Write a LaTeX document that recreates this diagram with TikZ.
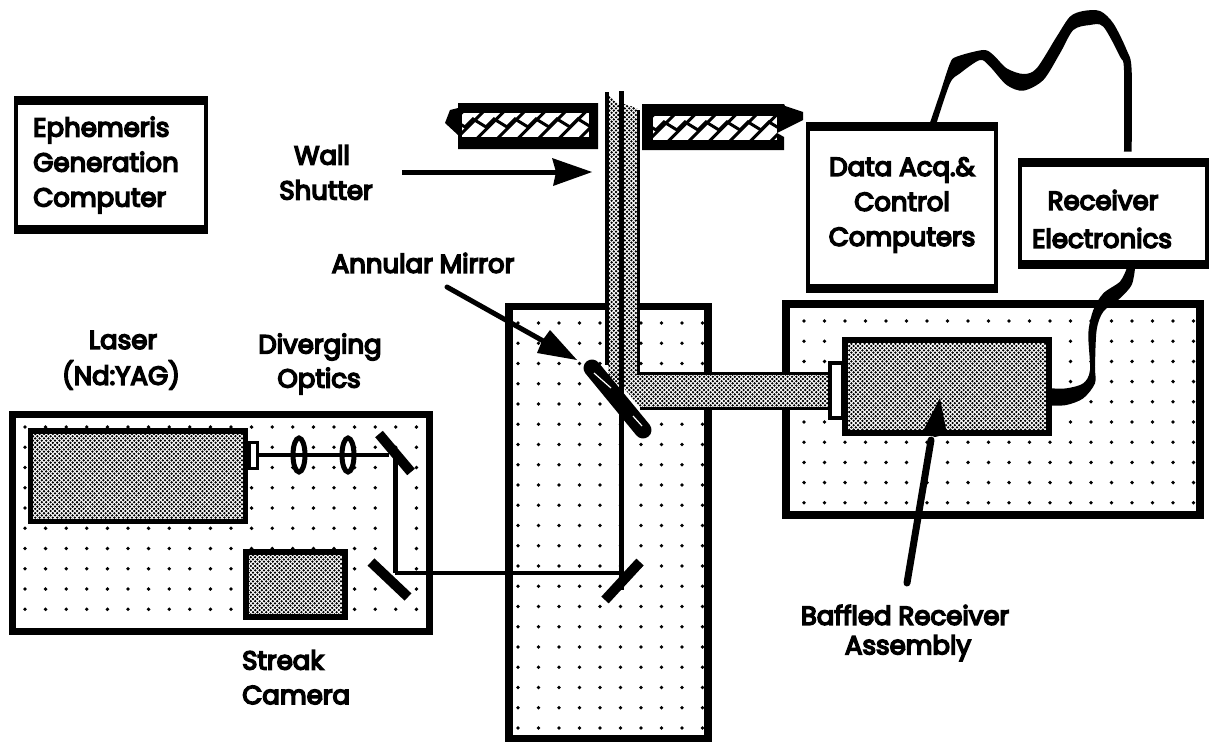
\documentclass[tikz,border=0pt]{standalone}
\usepackage{fontspec}
\setmainfont{Poppins}
\newfontfamily\lblfont{Poppins}[FakeBold=6]
\usetikzlibrary{patterns,arrows.meta}
\pgfdeclarepatternformonly{halftone}{\pgfqpoint{-1.5pt}{-1.5pt}}{\pgfqpoint{5pt}{5pt}}{\pgfqpoint{4.4pt}{4.4pt}}{
  \pgfpathcircle{\pgfqpoint{0pt}{0pt}}{1.3pt}
  \pgfpathcircle{\pgfqpoint{2.2pt}{2.2pt}}{1.3pt}
  \pgfusepath{fill}}
\tikzset{
  x=1pt,y=-1pt,
  lbl/.style={font=\lblfont\fontsize{26}{35}\selectfont,inner sep=0pt,align=center,text=black},
  lbll/.style={lbl,align=left},
  halfbox/.style={draw=black,line width=#1,preaction={fill=white},pattern=halftone,pattern color=black},
  mirror/.style={draw=black,line width=10pt},
  ray/.style={draw=black,line width=3.5pt},
  cable/.style={fill=black},
  tip/.style={fill=black},
}
\newcommand{\frm}[6]{% x0 y0 x1 y1 side top
  \fill[black] (#1,#2) rectangle (#3,#4);
  \fill[white] ({#1+#5},{#2+#6}) rectangle ({#3-#5},{#4-#6});}
\newcommand{\dotgrid}[6]{% x0 dx nx y0 dy ny
  \foreach \i in {1,...,#3}{\foreach \j in {1,...,#6}{
    \fill[black] ({#1+(\i-1)*#2},{#4+(\j-1)*#5}) circle (1.9pt);}}}
\newcommand{\hatchzone}[4]{% x0 x1 y0 y1
  \begin{scope}
   \clip (#1,#3) rectangle (#2,#4);
   \fill[white] (#1,#3) rectangle (#2,#4);
   \foreach \k in {-2,...,7}{
     \draw[black,line width=3pt] ({#1+\k*20.5-6},#4+2) -- ({#1+\k*20.5+22},#3-2);}
   \draw[black,line width=3pt] plot coordinates {
     ({#1-10},{#3+6}) ({#1+3},{#3+14}) ({#1+11},{#3+6}) ({#1+24},{#3+14}) ({#1+32},{#3+6})
     ({#1+45},{#3+14}) ({#1+53},{#3+6}) ({#1+66},{#3+14}) ({#1+74},{#3+6}) ({#1+87},{#3+14})
     ({#1+95},{#3+6}) ({#1+108},{#3+14}) ({#1+116},{#3+6}) ({#1+129},{#3+14})};
  \end{scope}}
\begin{document}
\begin{tikzpicture}
\useasboundingbox (0,0) rectangle (1209,742);
\fill[white] (0,0) rectangle (1209,742);

% tables
\frm{9}{411}{433}{635}{7}{7}
\dotgrid{25}{20.6}{20}{427}{20.25}{10}
\frm{505}{303}{712}{742}{8}{7}
\dotgrid{518}{20.5}{10}{323}{20.25}{21}
\frm{782}{300}{1204}{519}{8}{8}
\dotgrid{804}{20.5}{20}{321}{20.2}{10}

% wall
\fill[black] (458,103) -- (598,103) -- (598,149) -- (458,149) -- (458,135) -- (445,123) -- (450,110) -- (458,108) -- cycle;
\hatchzone{462}{589}{113}{137}
\fill[black] (642,104) -- (784,104) -- (785,106) -- (803,112) -- (803,120) -- (777,133) -- (784,137) -- (784,150) -- (642,150) -- cycle;
\hatchzone{653}{777}{116}{140}

% boxes
\frm{14}{96}{208}{234}{4}{9}
\node[lbll,anchor=west] (eph) at (33,165) {Ephemeris\\Generation\\Computer};
\frm{806}{122}{998}{293}{4}{9}
\node[lbl] (data) at (902,205) {Data Acq.\&\\Control\\Computers};
\frm{1018}{158}{1209}{269}{4}{9}
\node[lbl] (recv) at (1103,200) {Receiver};
\node[lbl] (elec) at (1102,238) {Electronics};

% cables
\begin{scope}[shift={(900,0)},x=0.3333pt,y=-0.3333pt]
\fill[cable] plot[smooth] coordinates {(90,368) (120,280) (150,190) (170,170) (250,150) (280,165) (320,205) (370,222) (410,205) (470,110) (510,50) (550,33) (600,33) (640,70) (680,150) (695,210) (695,455)}
 -- plot[smooth] coordinates {(672,455) (672,210) (660,170) (610,80) (570,75) (520,90) (480,160) (430,240) (370,272) (320,255) (270,200) (240,180) (180,220) (150,250) (110,368)} -- cycle;
\fill[cable] plot[smooth] coordinates {(705,806) (695,855) (660,895) (610,935) (590,990) (585,1100) (585,1150) (550,1195) (500,1215) (450,1217)}
 -- plot[smooth] coordinates {(450,1165) (500,1165) (550,1150) (570,1110) (565,1000) (580,930) (610,880) (660,845) (680,806)} -- cycle;
\end{scope}

% outgoing beam
\fill[white] (608,95) rectangle (637,372);
\fill[white] (637,373) rectangle (828,407);
\fill[pattern=halftone,pattern color=black] (608,95) -- (619,105) -- (619,385) -- (608,385) -- cycle;
\fill[pattern=halftone,pattern color=black] (624,104) -- (637,108) -- (637,373) -- (828,373) -- (828,407) -- (640,407) -- (610,372) -- (624,372) -- cycle;
\coordinate (a1) at (607,92); \coordinate (a2) at (607,365);
\draw[black,line width=4pt] (a1) -- (a2);
\coordinate (b1) at (621.5,91); \coordinate (b2) at (621.5,590);
\draw[black,line width=5pt] (b1) -- (b2);
\coordinate (c1) at (638.5,110); \coordinate (c2) at (638.5,373.5); \coordinate (c3) at (829,373.5);
\draw[black,line width=3.5pt] (c1) -- (c2) -- (c3);
\coordinate (d1) at (640,408.5); \coordinate (d2) at (829,408.5);
\draw[black,line width=3.5pt] (d1) -- (d2);

% receiver
\frm{828}{361}{845}{420}{4}{4}
\draw[halfbox=6pt] (845,340) rectangle (1049,433);

% annular mirror
\coordinate (m1) at (592,368); \coordinate (m2) at (643,430);
\draw[black,line width=17pt,line cap=round] (m1) -- (m2);
\draw[white,line width=1.2pt] (594,373) -- (611,388);
\draw[white,line width=1.2pt] (633,416) -- (642,426);

% laser table contents
\draw[halfbox=5.5pt] (30.5,431) rectangle (245.5,521.5);
\frm{248}{441}{259}{470}{3}{3}
\draw[halfbox=6pt] (246,552) rectangle (345,617);
\coordinate (l0) at (258,455); \coordinate (l1) at (389,455); \coordinate (l2) at (395,455); \coordinate (l3) at (395,573); \coordinate (l4) at (622,573);
\draw[ray] (l0) -- (l1);
\draw[black,line width=5pt] (299,455) ellipse (6pt and 17pt);
\draw[black,line width=5pt] (348,455) ellipse (6pt and 17pt);
\draw[black,line width=5pt] (l2) -- (l3);
\draw[black,line width=4pt] (l3) -- (l4);
\draw[mirror] (379,434) -- (411,472);
\draw[mirror] (371,562) -- (408,597);
\draw[mirror] (605,600) -- (640,562);

% arrows
\coordinate (wt) at (592,172); \coordinate (ws) at (402,172);
\draw[black,line width=5pt] (ws) -- (556,172);
\fill[tip] (wt) -- (552,158) -- (556,172) -- (553,186) -- cycle;
\coordinate (at) at (577,360); \coordinate (as) at (447,287);
\draw[black,line width=5pt,line cap=round] (as) -- (545,342);
\fill[tip] (at) -- (550,330) -- (542,341) -- (537,353) -- cycle;
\coordinate (bt) at (940,398); \coordinate (bs) at (907,583);
\draw[black,line width=7pt,line cap=round] (bs) -- (931,440);
\fill[tip] (bt) -- (947,434) -- (935,437) -- (922,433) -- cycle;

% labels
\node[lbl] (wall) at (322,155) {Wall};
\node[lbl] (shut) at (326,190) {Shutter};
\node[lbl] (ann) at (423,263) {Annular Mirror};
\node[lbl] (las) at (123,340) {Laser};
\node[lbl] (nd) at (121,375) {(Nd:YAG)};
\node[lbl] (div) at (320,347) {Diverging};
\node[lbl] (opt) at (319,381) {Optics};
\node[lbl,anchor=west] (str) at (242,660) {Streak};
\node[lbl,anchor=west] (cam) at (242,695) {Camera};
\node[lbl] (baf) at (905,615) {Baffled Receiver};
\node[lbl] (ass) at (908,648) {Assembly};
\end{tikzpicture}
\end{document}
